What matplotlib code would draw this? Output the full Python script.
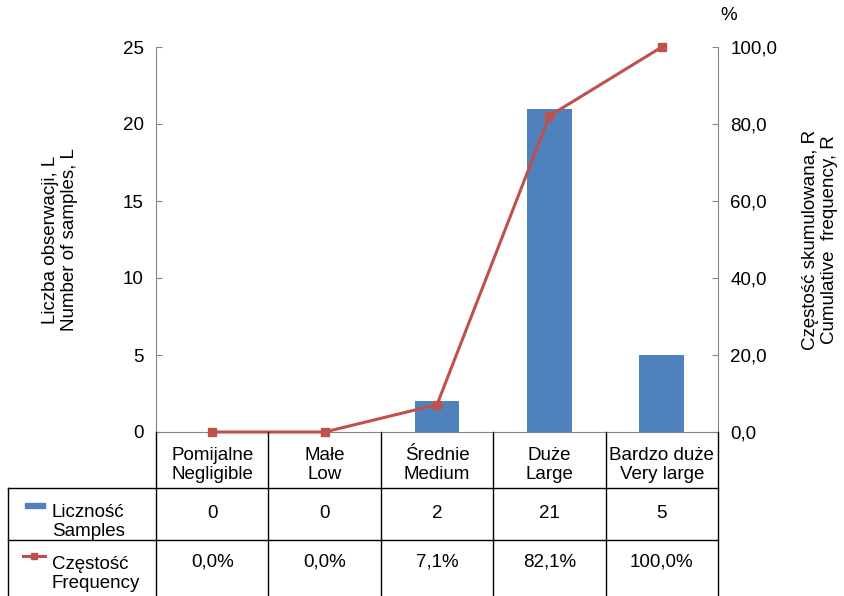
import matplotlib
matplotlib.use("Agg")
import matplotlib.pyplot as plt
from matplotlib.lines import Line2D
from matplotlib.patches import Rectangle

plt.rcParams['font.family'] = ['Liberation Sans', 'DejaVu Sans']

categories = ["Pomijalne\nNegligible", "Małe\nLow", "Średnie\nMedium",
              "Duże\nLarge", "Bardzo duże\nVery large"]
samples = [0, 0, 2, 21, 5]
cumulative = [0.0, 0.0, 7.1, 82.1, 100.0]
left_ticks = [0, 5, 10, 15, 20, 25]
right_ticks = [0, 20, 40, 60, 80, 100]

BLUE = "#4F81BD"
RED = "#C0504D"
AXIS_GREY = "#868686"
FS = 13.5

W, H = 845, 596
fig = plt.figure(figsize=(W / 100, H / 100), dpi=100)


def fx(px):
    return px / W


def fy(py):
    return 1 - py / H


ax = fig.add_axes([fx(156), fy(432), fx(718) - fx(156), fy(47) - fy(432)])
ax2 = ax.twinx()

x = list(range(len(categories)))
ax.bar(x, samples, width=0.4, color=BLUE, zorder=2)
ax.set_xlim(-0.5, len(categories) - 0.5)
ax.set_ylim(0, 25)
ax.set_yticks(left_ticks)
ax.set_yticklabels([str(t) for t in left_ticks])
ax.set_xticks([])

ax2.plot(x, cumulative, color=RED, lw=2.2, marker='s', ms=5.5, zorder=3,
         clip_on=False)
ax2.set_ylim(0, 100)
ax2.set_yticks(right_ticks)
ax2.set_yticklabels([f"{t:.1f}".replace('.', ',') for t in right_ticks])
ax2.set_zorder(ax.get_zorder() + 1)
ax2.patch.set_visible(False)

for a in (ax, ax2):
    a.spines["top"].set_visible(False)
    a.spines["left"].set_color(AXIS_GREY)
    a.spines["right"].set_color(AXIS_GREY)
    a.spines["bottom"].set_color(AXIS_GREY)
    a.tick_params(axis='y', direction='in', length=4, color=AXIS_GREY,
                  labelsize=FS, pad=9)
ax2.spines["left"].set_visible(False)
ax.spines["right"].set_visible(False)
ax2.spines["bottom"].set_visible(False)

ax.set_ylabel("Liczba obserwacji, L\nNumber of samples, L", fontsize=FS,
              labelpad=32, linespacing=1.12)
ax2.set_ylabel("Częstość skumulowana, R\nCumulative  frequency, R",
               fontsize=FS, labelpad=18, linespacing=1.12)
fig.text(fx(729), fy(16), "%", fontsize=FS, ha='center', va='center')

# data table below the plot
ln = dict(color="black", lw=1.0, transform=fig.transFigure, clip_on=False)
bounds = [ax.transData.transform((b - 0.5, 0))[0] / W
          for b in range(len(categories) + 1)]
row_tops = [fy(432), fy(488), fy(540), fy(596)]
for b in bounds:
    fig.add_artist(Line2D([b, b], [row_tops[0], row_tops[3]], **ln))
fig.add_artist(Line2D([fx(8), fx(8)], [row_tops[1], row_tops[3]], **ln))
for r in row_tops[1:3]:
    fig.add_artist(Line2D([fx(8), bounds[-1]], [r, r], **ln))

centers = [(bounds[i] + bounds[i + 1]) / 2 for i in range(len(categories))]
for c, name in zip(centers, categories):
    fig.text(c, fy(465), name, ha='center', va='center', fontsize=FS,
             linespacing=1.22)
for c, v in zip(centers, samples):
    fig.text(c, fy(514), str(v), ha='center', va='center', fontsize=FS)
for c, v in zip(centers, cumulative):
    fig.text(c, fy(562), f"{v:.1f}%".replace('.', ','), ha='center',
             va='center', fontsize=FS)

# legend keys inside the table
fig.add_artist(Rectangle((fx(25), fy(508)), fx(45) - fx(25), fy(503) - fy(508),
                         color=BLUE, transform=fig.transFigure))
fig.add_artist(Line2D([fx(23), fx(45)], [fy(556), fy(556)], color=RED, lw=2.2,
                      transform=fig.transFigure))
fig.add_artist(Line2D([fx(34)], [fy(556)], color=RED, marker='s', ms=5,
                      transform=fig.transFigure))
fig.text(fx(52), fy(522), "Liczność\nSamples", ha='left', va='center',
         fontsize=FS, linespacing=1.22)
fig.text(fx(52), fy(574), "Częstość\nFrequency", ha='left', va='center',
         fontsize=FS, linespacing=1.22)

fig.savefig("out.png", dpi=100)
